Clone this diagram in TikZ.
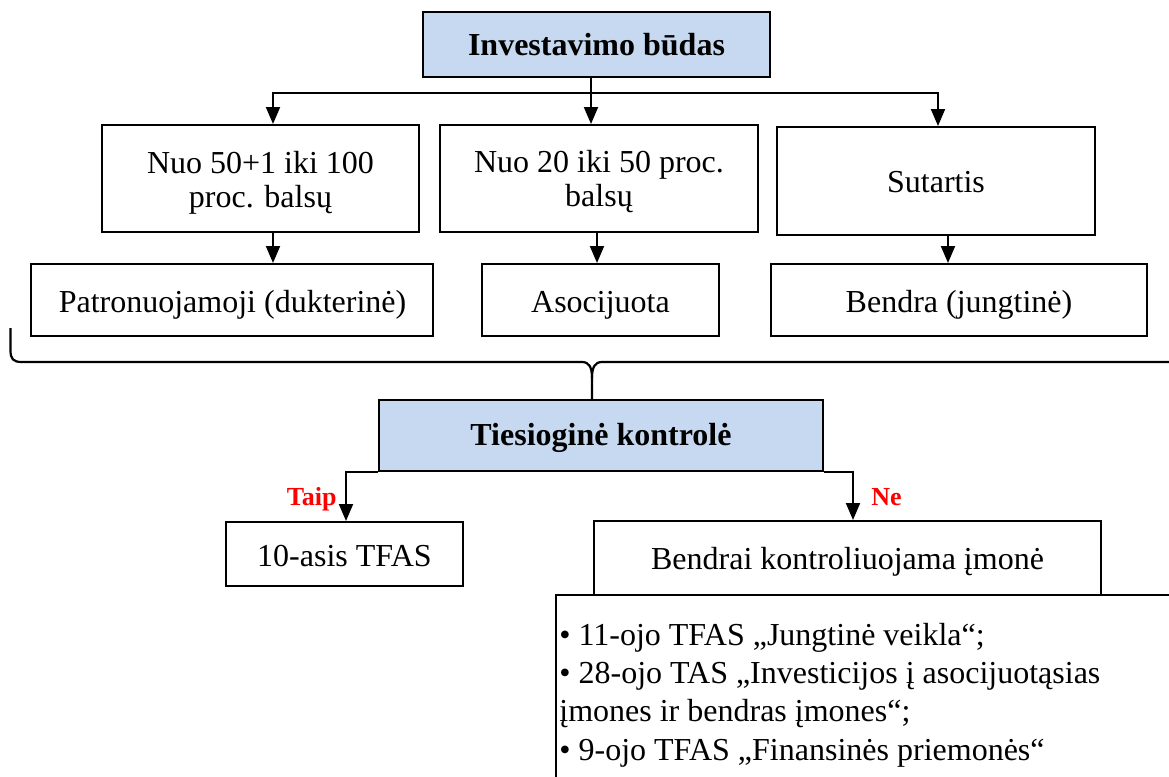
\documentclass[tikz,border=0pt]{standalone}
\usepackage{fontspec}
\setmainfont{Liberation Serif}
\usetikzlibrary{arrows.meta,fit}
\definecolor{headblue}{HTML}{C6D9F0}
\definecolor{answerred}{HTML}{FF0000}

\begin{document}
\begin{tikzpicture}[x=0.5pt,y=-0.5pt,
  box/.style={draw, line width=1pt, inner sep=0pt, rectangle},
  headbox/.style={box, fill=headblue},
  txt/.style={inner sep=0pt, anchor=base, font=\fontsize{16}{17}\selectfont},
  headtxt/.style={txt, font=\fontsize{16}{17}\selectfont\bfseries},
  listtxt/.style={inner sep=0pt, anchor=base west, font=\fontsize{16}{19.2}\selectfont},
  arr/.style={line width=1pt, -{Triangle[length=8.5pt,width=7pt]}},
  link/.style={line width=1pt},
  brace/.style={line width=1.1pt, line join=round},
  answer/.style={inner sep=0pt, font=\fontsize{13}{14}\selectfont\bfseries, text=answerred}
]
\useasboundingbox (0,0) rectangle (1169,777);
\clip (0,0) rectangle (1169,777);

% boxes
\node[headbox, fit={(423,12) (770,77)}] (ib) {};
\node[box, fit={(102,125) (419,232)}] (b1) {};
\node[box, fit={(440,125) (758,232)}] (b2) {};
\node[box, fit={(777,127) (1095,235)}] (b3) {};
\node[box, fit={(31,264) (433,336)}] (b4) {};
\node[box, fit={(482,264) (719,336)}] (b5) {};
\node[box, fit={(771,264) (1147,336)}] (b6) {};
\node[headbox, fit={(379,400) (823,471)}] (tk) {};
\node[box, fit={(226,522) (463,586)}] (b8) {};
\node[box, fit={(594,521) (1101,605)}] (b9) {};
\node[box, fill=white, fit={(556,595) (1200,800)}] (b10) {};

% texts
\node[headtxt] (tib) at (596.5,55) {Investavimo būdas};
\node[txt] (t1) at (260.5,173) {\begin{tabular}[t]{@{}c@{}}Nuo 50+1 iki 100\\proc. balsų\end{tabular}};
\node[txt] (t2) at (599,172) {\begin{tabular}[t]{@{}c@{}}Nuo 20 iki 50 proc.\\balsų\end{tabular}};
\node[txt] (t3) at (936,192) {Sutartis};
\node[txt] (t4) at (232.5,312) {Patronuojamoji (dukterinė)};
\node[txt] (t5) at (600.5,312) {Asocijuota};
\node[txt] (t6) at (959,312) {Bendra (jungtinė)};
\node[headtxt] (ttk) at (601,445) {Tiesioginė kontrolė};
\node[txt] (t8) at (344.5,566) {10-asis TFAS};
\node[txt] (t9) at (847.5,569) {Bendrai kontroliuojama įmonė};
\node[listtxt] (t10) at (559,645) {\begin{tabular}[t]{@{}l@{}}%
\textbullet\ 11-ojo TFAS „Jungtinė veikla“;\\
\textbullet\ 28-ojo TAS „Investicijos į asocijuotąsias\\
įmones ir bendras įmones“;\\
\textbullet\ 9-ojo TFAS „Finansinės priemonės“\end{tabular}};

% connector positions
\coordinate (bar) at (591,93);
\coordinate (c1) at (273,0);
\coordinate (c3) at (938,0);
\coordinate (d2) at (597,0);
\coordinate (d3) at (948,0);
\coordinate (yes) at (346,0);
\coordinate (no) at (853,0);
\coordinate (tip) at (592,362);

% first level
\draw[link] (ib.south -| bar) -- (bar);
\draw[arr] (bar) -| (b1.north -| c1);
\draw[arr] (bar) -- (b2.north -| bar);
\draw[arr] (bar) -| (b3.north -| c3);

% second level
\draw[arr] (b1.south -| c1) -- (b4.north -| c1);
\draw[arr] (b2.south -| d2) -- (b5.north -| d2);
\draw[arr] (b3.south -| d3) -- (b6.north -| d3);

% brace gathering the three kinds
\draw[brace] (10.5,328) -- (10.5,350) .. controls (10.5,359) and (13,362) .. (22,362)
  -- (582,362) .. controls (589,362) and (592,367) .. (592,378) -- (tk.north -| tip);
\draw[brace] (1180,362) -- (602,362) .. controls (595,362) and (592,367) .. (592,378);

% decision branches
\draw[arr] (tk.south west) -| (b8.north -| yes);
\draw[arr] (tk.south east) -| (b9.north -| no);
\node[answer, anchor=base east] (taip) at (337,505) {Taip};
\node[answer, anchor=base west] (ne) at (871,505) {Ne};
\end{tikzpicture}
\end{document}
